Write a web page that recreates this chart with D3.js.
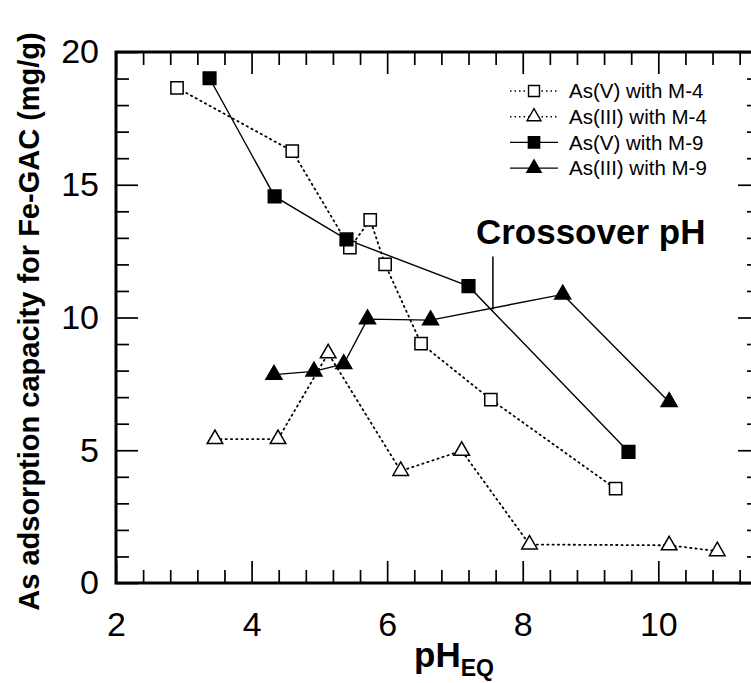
<!DOCTYPE html>
<html>
<head>
<meta charset="utf-8">
<script src="https://cdn.jsdelivr.net/npm/d3@7"></script>
<style>
  body { margin: 0; background: #fff; }
  svg text { font-family: "Liberation Sans", Arial, Helvetica, sans-serif; }
</style>
</head>
<body>
<div id="chart"></div>
<script>
// data (pH_EQ, mg/g)
const asV_M4_x = [2.9, 4.6, 5.45, 5.75, 5.97, 6.5, 7.53, 9.37];
const asV_M4_y = [18.65, 16.27, 12.63, 13.68, 12.0, 9.02, 6.91, 3.55];

const asIII_M4_x = [3.46, 4.39, 5.13, 6.2, 7.1, 8.1, 10.16, 10.87];
const asIII_M4_y = [5.42, 5.42, 8.65, 4.22, 4.98, 1.45, 1.42, 1.2];

const asV_M9_x = [3.38, 4.34, 5.4, 7.2, 9.56];
const asV_M9_y = [19.01, 14.56, 12.94, 11.18, 4.94];

const asIII_M9_x = [4.33, 4.92, 5.36, 5.71, 6.64, 8.59, 10.16];
const asIII_M9_y = [7.85, 7.97, 8.25, 9.94, 9.9, 10.87, 6.82];

const seriesNames = ["As(V) with M-4", "As(III) with M-4", "As(V) with M-9", "As(III) with M-9"];
const xMajor = [2, 4, 6, 8, 10];
const yMajor = [0, 5, 10, 15, 20];
const crossoverX = 7.56;
const crossoverY = [12.3, 10.3];

const width = 751, height = 683;
const margin = { top: 52, right: -9, bottom: 100, left: 116 };

const svg = d3.select("#chart").append("svg")
  .attr("width", width)
  .attr("height", height);

const x = d3.scaleLinear().domain([2, 11.5]).range([margin.left, width - margin.right]);
const y = d3.scaleLinear().domain([0, 20]).range([height - margin.bottom, margin.top]);

const series = [
  { name: seriesNames[0], xs: asV_M4_x, ys: asV_M4_y, sym: d3.symbolSquare, fill: "#fff", dash: "1.3,4", size: 150 },
  { name: seriesNames[1], xs: asIII_M4_x, ys: asIII_M4_y, sym: d3.symbolTriangle, fill: "#fff", dash: "1.3,4", size: 105 },
  { name: seriesNames[2], xs: asV_M9_x, ys: asV_M9_y, sym: d3.symbolSquare, fill: "#000", dash: null, size: 160 },
  { name: seriesNames[3], xs: asIII_M9_x, ys: asIII_M9_y, sym: d3.symbolTriangle, fill: "#000", dash: null, size: 110 },
];

// minor / major ticks on all four sides, pointing inward
const xMinor = d3.range(5, 29).filter((i) => i % 5 !== 0).map((i) => i * 0.4);
const yMinor = d3.range(0, 21).filter((v) => v % 5 !== 0);

const tickLayer = svg.append("g");

function styleAxis(g) {
  g.select(".domain").remove();
  g.selectAll("line").attr("stroke", "#000").attr("stroke-width", 1.7);
  g.selectAll("text")
    .attr("fill", "#000")
    .style("font-size", "34px");
}

tickLayer.append("g")
  .attr("transform", `translate(0,${y(0)})`)
  .call(d3.axisBottom(x).tickValues(xMajor).tickSize(-22).tickPadding(29).tickFormat(d3.format("d")))
  .call(styleAxis);
tickLayer.append("g")
  .attr("transform", `translate(0,${y(0)})`)
  .call(d3.axisBottom(x).tickValues(xMinor).tickSize(-13).tickFormat(""))
  .call(styleAxis);
tickLayer.append("g")
  .attr("transform", `translate(0,${y(20)})`)
  .call(d3.axisTop(x).tickValues(xMajor).tickSize(-22).tickFormat(""))
  .call(styleAxis);
tickLayer.append("g")
  .attr("transform", `translate(0,${y(20)})`)
  .call(d3.axisTop(x).tickValues(xMinor).tickSize(-13).tickFormat(""))
  .call(styleAxis);

tickLayer.append("g")
  .attr("transform", `translate(${x(2)},0)`)
  .call(d3.axisLeft(y).tickValues(yMajor).tickSize(-22).tickPadding(17).tickFormat(d3.format("d")))
  .call(styleAxis);
tickLayer.append("g")
  .attr("transform", `translate(${x(2)},0)`)
  .call(d3.axisLeft(y).tickValues(yMinor).tickSize(-13).tickFormat(""))
  .call(styleAxis);
tickLayer.append("g")
  .attr("transform", `translate(${x(11.5)},0)`)
  .call(d3.axisRight(y).tickValues(yMajor).tickSize(-22).tickFormat(""))
  .call(styleAxis);
tickLayer.append("g")
  .attr("transform", `translate(${x(11.5)},0)`)
  .call(d3.axisRight(y).tickValues(yMinor).tickSize(-13).tickFormat(""))
  .call(styleAxis);

// frame
svg.append("rect")
  .attr("x", x(2))
  .attr("y", y(20))
  .attr("width", x(11.5) - x(2))
  .attr("height", y(0) - y(20))
  .attr("fill", "none")
  .attr("stroke", "#000")
  .attr("stroke-width", 3);

// axis titles
svg.append("text")
  .attr("transform", `translate(39,${(y(0) + y(20)) / 2 + 4}) rotate(-90)`)
  .attr("text-anchor", "middle")
  .style("font-size", "29px")
  .style("font-weight", "bold")
  .text("As adsorption capacity for Fe-GAC (mg/g)");

const xt = svg.append("text")
  .attr("x", 454)
  .attr("y", 667)
  .attr("text-anchor", "middle")
  .style("font-size", "35px")
  .style("font-weight", "bold");
xt.append("tspan").text("pH");
xt.append("tspan").attr("dy", 9).style("font-size", "23px").text("EQ");

// crossover annotation
svg.append("line")
  .attr("x1", x(crossoverX)).attr("x2", x(crossoverX))
  .attr("y1", y(crossoverY[0])).attr("y2", y(crossoverY[1]))
  .attr("stroke", "#000").attr("stroke-width", 1.5);
svg.append("text")
  .attr("x", x(crossoverX) - 17)
  .attr("y", y(crossoverY[0]) - 12)
  .style("font-size", "35px")
  .style("font-weight", "bold")
  .text("Crossover pH");

// lines + markers
const line = d3.line().x((d) => x(d[0])).y((d) => y(d[1]));
const plot = svg.append("g");

series.forEach((s) => {
  const pts = s.xs.map((v, i) => [v, s.ys[i]]);
  plot.append("path")
    .datum(pts)
    .attr("d", line)
    .attr("fill", "none")
    .attr("stroke", "#000")
    .attr("stroke-width", s.dash ? 1.8 : 1.4)
    .attr("stroke-dasharray", s.dash)
    .attr("stroke-linecap", s.dash ? "round" : "butt");
});

series.forEach((s) => {
  const pts = s.xs.map((v, i) => [v, s.ys[i]]);
  plot.selectAll(null)
    .data(pts)
    .join("path")
    .attr("transform", (d) => `translate(${x(d[0])},${y(d[1])})`)
    .attr("d", d3.symbol(s.sym, s.size))
    .attr("fill", s.fill)
    .attr("stroke", "#000")
    .attr("stroke-width", 1.5);
});

// legend
const legend = svg.append("g").attr("transform", "translate(510,91)");
const rowH = 25.7;
series.forEach((s, i) => {
  const row = legend.append("g").attr("transform", `translate(0,${i * rowH})`);
  row.append("line")
    .attr("x1", 0).attr("x2", 48)
    .attr("stroke", "#000")
    .attr("stroke-width", s.dash ? 1.5 : 1.4)
    .attr("stroke-dasharray", s.dash ? "1.5,3" : null);
  row.append("path")
    .attr("transform", "translate(24,0)")
    .attr("d", d3.symbol(s.sym, s.size * 0.8))
    .attr("fill", s.fill)
    .attr("stroke", "#000")
    .attr("stroke-width", 1.4);
  row.append("text")
    .attr("x", 59)
    .attr("y", 0)
    .attr("dy", "0.36em")
    .style("font-size", "20.5px")
    .text(s.name);
});
</script>
</body>
</html>
